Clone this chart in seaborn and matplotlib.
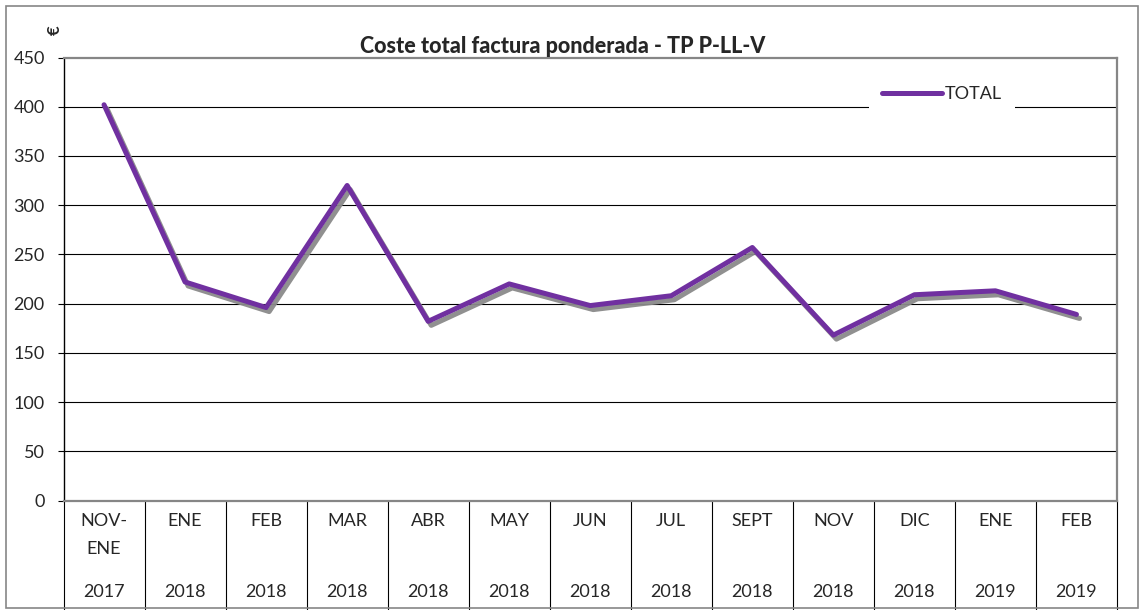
import matplotlib
matplotlib.use("Agg")
import matplotlib.pyplot as plt
import matplotlib.patheffects as pe
import matplotlib.transforms as mtransforms
from matplotlib.patches import Rectangle
import numpy as np
import pandas as pd
import seaborn as sns

# Monthly data
months = ["NOV-\nENE", "ENE", "FEB", "MAR", "ABR", "MAY", "JUN", "JUL",
          "SEPT", "NOV", "DIC", "ENE", "FEB"]
years = ["2017", "2018", "2018", "2018", "2018", "2018", "2018", "2018",
         "2018", "2018", "2018", "2019", "2019"]
total = [402, 222, 196, 320, 182, 220, 198, 208, 257, 168, 209, 213, 189]
yticks = [0, 50, 100, 150, 200, 250, 300, 350, 400, 450]

title = "Coste total factura ponderada - TP P-LL-V"
series_name = "TOTAL"

sns.set_style("white")
plt.rcParams["font.family"] = ["Lato", "DejaVu Sans"]

W, H = 1143, 610
FS = 13
fig = plt.figure(figsize=(W / 100, H / 100), dpi=100)
ax_left, ax_right, ax_top, ax_bottom = 63.5, 1117, 57.5, 500.5
ax = fig.add_axes([ax_left / W, (H - ax_bottom) / H,
                   (ax_right - ax_left) / W, (ax_bottom - ax_top) / H])

df = pd.DataFrame({"pos": np.arange(len(total)), "value": total,
                   "serie": series_name})
purple = "#7030A0"
sns.lineplot(data=df, x="pos", y="value", ax=ax, color=purple, lw=3.6,
             label=series_name, solid_capstyle="round",
             solid_joinstyle="round", zorder=5,
             path_effects=[pe.SimpleLineShadow(offset=(2.2, -2.9),
                                               shadow_color="#8a8a8a",
                                               alpha=0.95),
                           pe.Normal()])

ax.set_xlim(-0.5, len(total) - 0.5)
ax.set_ylim(0, 450)
ax.set_yticks(yticks)
ax.set_yticklabels([str(v) for v in yticks], fontsize=FS)
ax.set_xticks([])
ax.set_xlabel("")
ax.set_ylabel("")

# horizontal gridlines
for v in yticks[1:-1]:
    ax.axhline(v, color="black", lw=0.8, zorder=1)

ax.tick_params(axis="y", direction="out", length=4.5, width=0.8,
               color="black", pad=9, left=True)
for side in ["top", "right", "bottom"]:
    ax.spines[side].set_color("#868686")
    ax.spines[side].set_linewidth(1.6)
ax.spines["left"].set_color("black")
ax.spines["left"].set_linewidth(1.0)

# category table under the axis
trans = mtransforms.blended_transform_factory(ax.transData, fig.transFigure)
y_axis_fig = (H - ax_bottom) / H
for i in range(len(total) + 1):
    ax.plot([i - 0.5, i - 0.5], [y_axis_fig, 0], transform=trans,
            color="black", lw=0.8, clip_on=False)
for i, (m, yr) in enumerate(zip(months, years)):
    ax.text(i, (H - 513) / H, m, transform=trans, ha="center", va="top",
            fontsize=FS, linespacing=1.95)
    ax.text(i, (H - 592) / H, yr, transform=trans, ha="center",
            va="center", fontsize=FS)

# outer frame of the chart
fig.patches.append(Rectangle((5.5 / W, 2 / H), (1138 - 5.5) / W,
                             (604 - 2) / H, transform=fig.transFigure,
                             fill=False, edgecolor="#868686", lw=1.2))

# title and unit label
fig.text(563 / W, (H - 53) / H, title, ha="center", va="baseline",
         fontsize=15.5, fontweight="black")
fig.text(55 / W, (H - 30) / H, "€", ha="center", va="center",
         rotation=90, fontsize=12, fontweight="bold")

# legend
leg = ax.legend(loc="center", bbox_to_anchor=(942 / W, (H - 94) / H),
                bbox_transform=fig.transFigure, frameon=True,
                fontsize=FS, handlelength=3.3, handletextpad=0.15,
                borderpad=0.75, borderaxespad=0)
leg.get_frame().set_facecolor("white")
leg.get_frame().set_edgecolor("none")
leg.get_frame().set_alpha(1)
for line in leg.get_lines():
    line.set_path_effects([])
    line.set_linewidth(3.6)

fig.savefig("out.png", dpi=100)
